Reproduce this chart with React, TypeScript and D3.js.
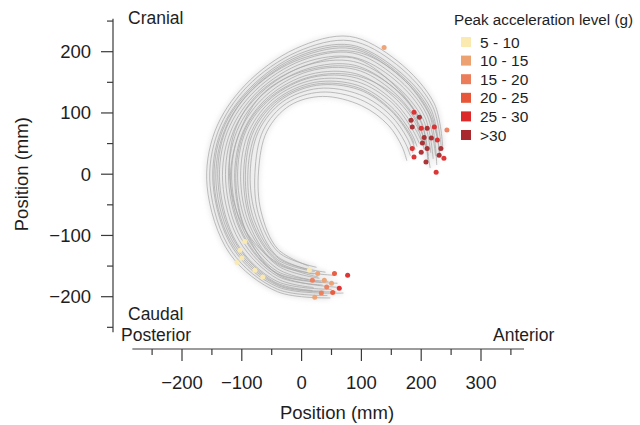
import React from "react";
import * as d3 from "d3";

// ---------- data ----------
const LEVELS = ["5 - 10", "10 - 15", "15 - 20", "20 - 25", "25 - 30", ">30"];
const LEVEL_COLORS = ["#FBEAB0", "#EDA070", "#EC7D5B", "#E8563A", "#DC2A2A", "#A82A2E"];

const Y_MAJOR = [-200, -100, 0, 100, 200];
const Y_MINOR = [-250, -150, -50, 50, 150, 250];
const X_MAJOR = [-200, -100, 0, 100, 200, 300];
const X_MINOR = [-250, -150, -50, 50, 150, 250, 350];

// head trajectories (mm), start at caudal end, end at anterior-cranial end
const trajectories: [number, number][][] = [
  [[12,-150],[-40,-122],[-68,-60],[-72,5],[-58,70],[-20,112],[35,127],[100,112],[145,80],[168,45],[176,22]],
  [[25,-152],[-38,-128],[-72,-66],[-78,3],[-64,72],[-25,116],[32,134],[98,122],[146,90],[173,52],[182,30]],
  [[15,-157],[-42,-133],[-76,-70],[-86,0],[-72,70],[-32,118],[28,140],[97,130],[148,97],[177,58],[186,35]],
  [[40,-160],[-38,-138],[-79,-76],[-90,-2],[-76,69],[-36,120],[25,145],[96,138],[149,104],[181,62],[190,40]],
  [[20,-163],[-41,-142],[-84,-80],[-97,-3],[-83,71],[-42,122],[22,150],[94,145],[150,110],[184,66],[193,45]],
  [[55,-165],[-40,-147],[-86,-85],[-102,-4],[-88,70],[-46,124],[20,154],[93,151],[151,117],[187,70],[197,50]],
  [[30,-170],[-39,-150],[-89,-88],[-107,-6],[-93,71],[-50,125],[17,158],[92,157],[151,122],[190,74],[200,55]],
  [[12,-172],[-41,-154],[-93,-93],[-112,-7],[-98,69],[-55,127],[14,163],[91,164],[152,128],[193,78],[205,40]],
  [[45,-175],[-40,-159],[-95,-96],[-117,-8],[-103,70],[-59,129],[12,168],[90,171],[153,135],[196,82],[207,45]],
  [[60,-178],[-40,-163],[-98,-101],[-122,-10],[-108,71],[-64,131],[9,172],[88,178],[154,141],[199,86],[212,30]],
  [[35,-181],[-39,-167],[-101,-105],[-127,-11],[-114,70],[-68,133],[6,177],[87,184],[155,147],[203,90],[216,35]],
  [[20,-185],[-40,-171],[-104,-109],[-132,-13],[-119,69],[-73,135],[4,182],[86,191],[156,154],[206,94],[220,25]],
  [[50,-188],[-41,-175],[-108,-113],[-137,-14],[-124,70],[-77,137],[1,186],[85,198],[156,160],[209,98],[224,30]],
  [[38,-191],[-40,-180],[-111,-117],[-143,-16],[-129,71],[-82,139],[-2,191],[84,205],[157,166],[212,102],[226,15]],
  [[70,-194],[-40,-184],[-114,-122],[-148,-17],[-135,70],[-86,141],[-5,196],[82,211],[158,172],[216,107],[230,35]],
  [[43,-198],[-40,-188],[-117,-126],[-153,-19],[-140,69],[-91,143],[-7,200],[81,218],[159,179],[219,111],[234,40]],
  [[48,-202],[-40,-192],[-120,-130],[-158,-20],[-145,70],[-95,145],[-10,205],[80,225],[160,185],[222,115],[236,45]],
  [[28,-168],[-40,-145],[-95,-90],[-120,-8],[-112,70],[-72,132],[0,175],[85,190],[150,150],[190,100],[195,70]],
  [[65,-185],[-38,-165],[-90,-100],[-110,-10],[-95,72],[-52,126],[18,160],[95,160],[160,125],[200,70],[215,10]],
  [[18,-190],[-45,-176],[-112,-110],[-140,-10],[-126,75],[-80,140],[-2,188],[90,200],[165,160],[215,95],[228,55]],
  [[33,-176],[-42,-161],[-97,-99],[-119,-12],[-104,68],[-62,134],[10,170],[92,174],[158,138],[201,84],[211,20]],
  [[58,-192],[-39,-182],[-113,-119],[-146,-18],[-132,72],[-84,140],[-4,193],[83,208],[157,169],[214,104],[232,28]],
  [[22,-159],[-41,-139],[-82,-78],[-94,-1],[-80,71],[-39,121],[23,147],[95,141],[149,106],[182,64],[188,50]],
];

// peak acceleration points: [x, y, level index]
const peakPoints: [number, number, number][] = [
  // anterior-cranial cluster
  [188,101,4],[197,93,5],[183,88,5],[185,77,5],[200,75,4],[210,75,5],[222,77,4],
  [205,60,5],[217,59,5],[227,56,4],[202,51,5],[185,42,4],[210,42,5],[233,42,5],
  [200,36,5],[188,28,4],[230,31,5],[238,26,4],[208,20,5],[225,3,4],
  [138,207,1],[243,72,2],
  // caudal start cluster
  [27,-162,1],[18,-173,2],[38,-173,1],[55,-162,3],[63,-186,4],[52,-193,3],
  [33,-194,2],[22,-201,1],[42,-184,2],[77,-165,4],[50,-178,1],[13,-157,0],
  // posterior-caudal low-level points
  [-103,-124,0],[-100,-137,0],[-108,-144,0],[-65,-168,0],[-78,-157,0],[-95,-110,0],
];

// ---------- layout ----------
const W = 640, H = 425;
const FONT = "'Liberation Sans', Arial, Helvetica, sans-serif";
const AXIS_Y_X = 113;
const AXIS_X_Y = 349;

export default function App() {
  const x = d3.scaleLinear().domain([-200, 300]).range([182, 481]);
  const y = d3.scaleLinear().domain([-200, 200]).range([296.7, 51.7]);
  const line = d3
    .line<[number, number]>()
    .x((d) => x(d[0]))
    .y((d) => y(d[1]))
    .curve(d3.curveCatmullRom.alpha(0.5));

  const fmt = (v: number) => (v < 0 ? "\u2212" + Math.abs(v) : String(v));
  const axisColor = "#3a3a3a";
  const textColor = "#1e1e1e";

  return (
    <svg
      width={W}
      height={H}
      style={{ position: "absolute", left: 0, top: 0, background: "#fff" }}
      fontFamily={FONT}
    >
      <defs>
        <filter id="soft" x="-5%" y="-5%" width="110%" height="110%">
          <feGaussianBlur stdDeviation="0.5" />
        </filter>
        <filter id="haze" x="-10%" y="-10%" width="120%" height="120%">
          <feGaussianBlur stdDeviation="2" />
        </filter>
      </defs>

      {/* haze under the trajectory bundle */}
      <g filter="url(#haze)">
        {trajectories.map((t, i) => (
          <path
            key={"h" + i}
            d={line(t) || ""}
            fill="none"
            stroke="#dcdcdc"
            strokeWidth={6}
            strokeOpacity={0.35}
          />
        ))}
      </g>

      {/* trajectories */}
      <g filter="url(#soft)">
        {trajectories.map((t, i) => (
          <path
            key={i}
            d={line(t) || ""}
            fill="none"
            stroke="#a8a8a8"
            strokeWidth={1}
            strokeOpacity={0.75}
          />
        ))}
      </g>

      {/* peak points */}
      <g filter="url(#soft)">
        {peakPoints.map((p, i) => (
          <circle
            key={i}
            cx={x(p[0])}
            cy={y(p[1])}
            r={2.5}
            fill={LEVEL_COLORS[p[2]]}
            fillOpacity={0.95}
          />
        ))}
      </g>

      {/* Y axis */}
      <g stroke={axisColor} strokeWidth={1.2}>
        <line x1={AXIS_Y_X} x2={AXIS_Y_X} y1={y(254)} y2={y(-258)} />
        {Y_MAJOR.map((v) => (
          <line key={"ym" + v} x1={AXIS_Y_X - 12} x2={AXIS_Y_X} y1={y(v)} y2={y(v)} />
        ))}
        {Y_MINOR.map((v) => (
          <line key={"yn" + v} x1={AXIS_Y_X - 6} x2={AXIS_Y_X} y1={y(v)} y2={y(v)} />
        ))}
      </g>
      {Y_MAJOR.map((v) => (
        <text
          key={"yl" + v}
          x={AXIS_Y_X - 22}
          y={y(v) + 6.5}
          textAnchor="end"
          fontSize={18.5}
          fill={textColor}
        >
          {fmt(v)}
        </text>
      ))}
      <text
        transform={`translate(21,${y(0)}) rotate(-90)`}
        textAnchor="middle"
        dominantBaseline="central"
        fontSize={18.5}
        fill={textColor}
      >
        Position (mm)
      </text>

      {/* X axis */}
      <g stroke={axisColor} strokeWidth={1.2}>
        <line x1={x(-283)} x2={x(372)} y1={AXIS_X_Y} y2={AXIS_X_Y} />
        {X_MAJOR.map((v) => (
          <line key={"xm" + v} x1={x(v)} x2={x(v)} y1={AXIS_X_Y} y2={AXIS_X_Y + 12} />
        ))}
        {X_MINOR.map((v) => (
          <line key={"xn" + v} x1={x(v)} x2={x(v)} y1={AXIS_X_Y} y2={AXIS_X_Y + 6} />
        ))}
      </g>
      {X_MAJOR.map((v) => (
        <text
          key={"xl" + v}
          x={x(v)}
          y={389}
          textAnchor="middle"
          fontSize={18.5}
          fill={textColor}
        >
          {fmt(v)}
        </text>
      ))}
      <text x={337} y={419} textAnchor="middle" fontSize={18.5} fill={textColor}>
        Position (mm)
      </text>

      {/* direction labels */}
      <text x={128} y={24} fontSize={17.5} fill={textColor}>Cranial</text>
      <text x={128} y={320} fontSize={17.5} fill={textColor}>Caudal</text>
      <text x={121} y={341} fontSize={17.5} fill={textColor}>Posterior</text>
      <text x={493} y={341} fontSize={17.5} fill={textColor}>Anterior</text>

      {/* legend */}
      <text x={454} y={25} fontSize={15.2} fill={textColor}>
        Peak acceleration level (g)
      </text>
      {LEVELS.map((lab, i) => {
        const cy = 42 + i * 18.6;
        return (
          <g key={lab}>
            <rect x={461} y={cy - 5} width={10} height={10} fill={LEVEL_COLORS[i]} />
            <text x={480} y={cy + 5.5} fontSize={15.5} fill={textColor}>
              {lab}
            </text>
          </g>
        );
      })}
    </svg>
  );
}
